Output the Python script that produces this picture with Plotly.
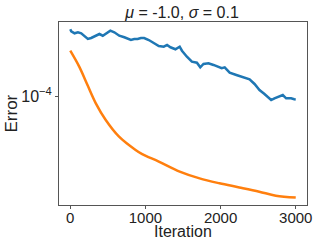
import plotly.graph_objects as go

# Blue series (noisy)
blue_iter = [0, 13, 57, 102, 146, 189, 234, 278, 344, 388, 433, 476, 533, 586, 652,
             719, 764, 807, 851, 896, 940, 983, 1045, 1112, 1178, 1244, 1288, 1333,
             1399, 1456, 1486, 1552, 1618, 1685, 1730, 1773, 1839, 1906, 1972, 2015,
             2055, 2121, 2210, 2299, 2386, 2452, 2518, 2584, 2673, 2717, 2783, 2828,
             2872, 2938, 2981, 3000]
blue_err = [1.983e-4, 1.943e-4, 1.904e-4, 1.923e-4, 1.904e-4, 1.858e-4, 1.797e-4,
            1.815e-4, 1.858e-4, 1.890e-4, 1.858e-4, 1.904e-4, 1.955e-4, 1.923e-4,
            1.858e-4, 1.828e-4, 1.797e-4, 1.778e-4, 1.797e-4, 1.797e-4, 1.815e-4,
            1.815e-4, 1.778e-4, 1.730e-4, 1.673e-4, 1.661e-4, 1.690e-4, 1.651e-4,
            1.618e-4, 1.661e-4, 1.595e-4, 1.500e-4, 1.426e-4, 1.411e-4, 1.346e-4,
            1.393e-4, 1.403e-4, 1.379e-4, 1.355e-4, 1.333e-4, 1.346e-4, 1.274e-4,
            1.245e-4, 1.216e-4, 1.191e-4, 1.136e-4, 1.068e-4, 1.026e-4, 0.965e-4,
            0.982e-4, 1.005e-4, 1.015e-4, 0.982e-4, 0.982e-4, 0.972e-4, 0.970e-4]

# Orange series (smooth)
orange_iter = [0, 119, 229, 340, 472, 649, 869, 957, 1178, 1456, 1721, 1985, 2250,
               2515, 2735, 3000]
orange_err = [1.594e-4, 1.355e-4, 1.124e-4, 0.933e-4, 0.787e-4, 0.664e-4, 0.58e-4,
              0.556e-4, 0.515e-4, 0.465e-4, 0.434e-4, 0.413e-4, 0.396e-4, 0.379e-4,
              0.364e-4, 0.357e-4]

x_ticks = [0, 1000, 2000, 3000]
y_ticks = [1e-4]
y_ticktext = ["10<sup>−4</sup>"]

FONT = "Liberation Sans, Arial, sans-serif"
AXC = "#555555"
TXT = "#222222"

fig = go.Figure()
fig.add_trace(go.Scatter(x=blue_iter, y=blue_err, mode="lines",
                         line=dict(color="#1f77b4", width=2.5)))
fig.add_trace(go.Scatter(x=orange_iter, y=orange_err, mode="lines",
                         line=dict(color="#ff7f0e", width=2.5, shape="spline")))

fig.update_layout(
    width=319, height=248,
    margin=dict(l=59, r=12, t=22, b=43, autoexpand=False),
    paper_bgcolor="white", plot_bgcolor="white",
    showlegend=False,
    font=dict(family=FONT, size=16, color=TXT),
    title=dict(text="<i>μ</i> = -1.0, <i>σ</i> = 0.1", x=0.5705, xanchor="center",
               y=0.9516, yanchor="middle", font=dict(size=16, family=FONT)),
    annotations=[
        dict(text="Iteration", xref="paper", yref="paper", x=0.5, y=-0.1475,
             xanchor="center", yanchor="middle", showarrow=False,
             font=dict(size=16, family=FONT, color=TXT)),
        dict(text="Error", xref="paper", yref="paper", x=-0.1935, y=0.5,
             xanchor="center", yanchor="middle", showarrow=False, textangle=-90,
             font=dict(size=17, family=FONT, color=TXT)),
    ],
)
fig.update_xaxes(
    range=[-150, 3150], tickvals=x_ticks, ticks="outside", ticklen=3,
    tickcolor=AXC, showline=True, linecolor=AXC, linewidth=1, mirror=True,
    showgrid=False, zeroline=False, automargin=False, ticklabelstandoff=-4,
    tickfont=dict(size=15),
)
fig.update_yaxes(
    type="log", range=[-4.4801, -3.6704], tickvals=y_ticks, ticktext=y_ticktext,
    ticks="outside", ticklen=3, tickcolor=AXC, showline=True, linecolor=AXC,
    linewidth=1, mirror=True, showgrid=False, zeroline=False, automargin=False,
    tickfont=dict(size=16),
)

fig.write_html("out.html", config={"displayModeBar": False},
               post_script="document.body.style.margin='0';document.body.style.overflow='hidden';")
